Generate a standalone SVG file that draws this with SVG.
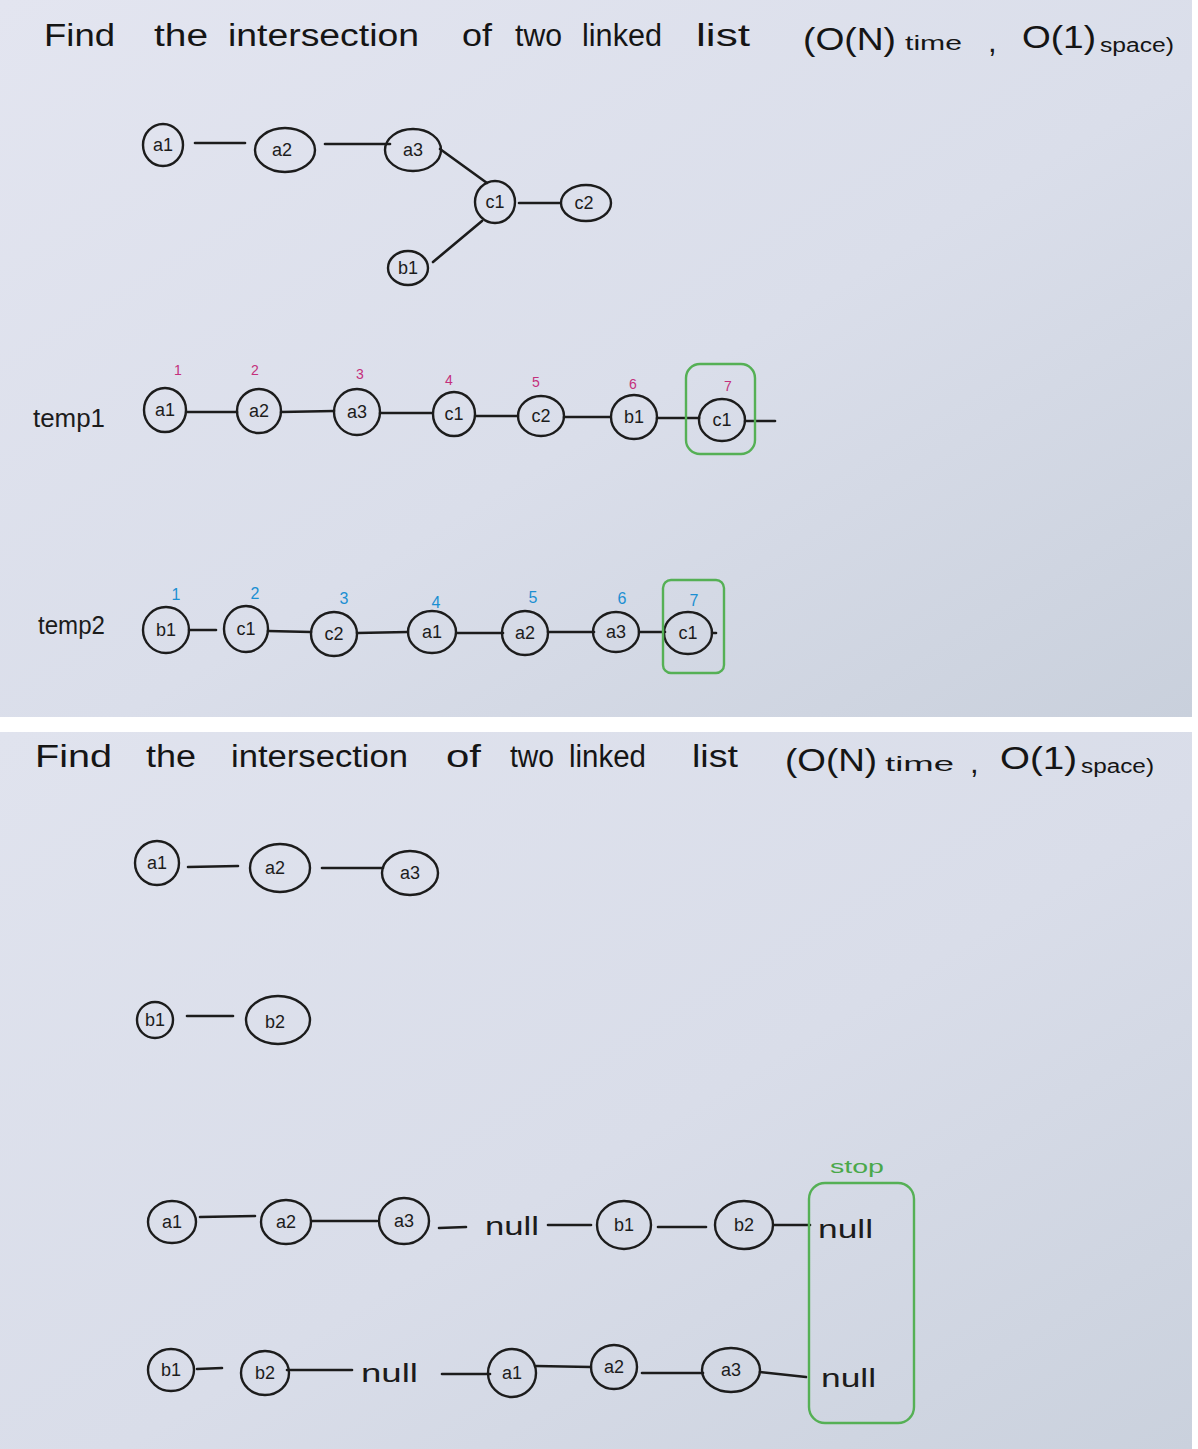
<svg xmlns="http://www.w3.org/2000/svg" width="1198" height="1449" viewBox="0 0 1198 1449">
<defs>
<linearGradient id="bg1" x1="0" y1="0" x2="1" y2="1">
<stop offset="0" stop-color="#e3e5f0"/>
<stop offset="0.55" stop-color="#dadeea"/>
<stop offset="1" stop-color="#c9d0dc"/>
</linearGradient>
<linearGradient id="bg2" x1="0" y1="0" x2="1" y2="1">
<stop offset="0" stop-color="#e0e3ee"/>
<stop offset="0.55" stop-color="#d9dde9"/>
<stop offset="1" stop-color="#cad1dd"/>
</linearGradient>
<style>
.node ellipse{fill:none;stroke:#1c1c1c;stroke-width:2.4}
.lbl{font-family:"Liberation Sans","DejaVu Sans",sans-serif;font-size:18px;text-anchor:middle;fill:#1c1c1c}
.edges line{stroke:#1c1c1c;stroke-width:2.6;stroke-linecap:round}
.title{font-family:"Liberation Sans Narrow","Liberation Sans",sans-serif;font-size:31px;fill:#151515}
.small{font-family:"Liberation Sans Narrow","Liberation Sans",sans-serif;font-size:20px;fill:#151515}
.word{font-family:"Liberation Sans","DejaVu Sans",sans-serif;font-size:25px;fill:#1c1c1c}
.num1{font-family:"Liberation Sans",sans-serif;font-size:14px;fill:#c4307c;text-anchor:middle}
.num2{font-family:"Liberation Sans",sans-serif;font-size:16px;fill:#1b8fd2;text-anchor:middle}
.box{fill:none;stroke:#55b055;stroke-width:2.4}
.stop{font-family:"Liberation Sans",sans-serif;font-size:18px;fill:#4aa84a}
</style>
</defs>
<rect x="0" y="0" width="1198" height="1449" fill="#ffffff"/>
<rect x="0" y="0" width="1192" height="717" fill="url(#bg1)"/>
<rect x="0" y="732" width="1192" height="717" fill="url(#bg2)"/>

<!-- Top title -->
<g id="title1">
<text class="title" x="44" y="46" textLength="71" lengthAdjust="spacingAndGlyphs">Find</text>
<text class="title" x="154" y="46" textLength="54" lengthAdjust="spacingAndGlyphs">the</text>
<text class="title" x="228" y="46" textLength="191" lengthAdjust="spacingAndGlyphs">intersection</text>
<text class="title" x="462" y="46" textLength="30" lengthAdjust="spacingAndGlyphs">of</text>
<text class="title" x="515" y="46" textLength="47" lengthAdjust="spacingAndGlyphs">two</text>
<text class="title" x="582" y="46" textLength="80" lengthAdjust="spacingAndGlyphs">linked</text>
<text class="title" x="696" y="46" textLength="54" lengthAdjust="spacingAndGlyphs">list</text>
<text class="title" x="803" y="50" textLength="93" lengthAdjust="spacingAndGlyphs">(O(N)</text>
<text class="small" x="905" y="50" textLength="57" lengthAdjust="spacingAndGlyphs">time</text>
<text class="title" x="988" y="52">,</text>
<text class="title" x="1022" y="48" textLength="74" lengthAdjust="spacingAndGlyphs">O(1)</text>
<text class="small" x="1100" y="52" textLength="74" lengthAdjust="spacingAndGlyphs">space)</text>
</g>

<!-- Connectors -->
<g id="connectors" class="edges">
<line x1="195" y1="143" x2="245" y2="143"/>
<line x1="325" y1="144" x2="390" y2="144"/>
<line x1="440" y1="149" x2="487" y2="183"/>
<line x1="519" y1="203" x2="560" y2="203"/>
<line x1="433" y1="262" x2="482" y2="221"/>

<line x1="187" y1="412" x2="237" y2="412"/>
<line x1="281" y1="412" x2="334" y2="411"/>
<line x1="380" y1="413" x2="432" y2="413"/>
<line x1="476" y1="416" x2="518" y2="416"/>
<line x1="564" y1="417" x2="610" y2="417"/>
<line x1="657" y1="418" x2="699" y2="418"/>
<line x1="745" y1="421" x2="775" y2="421"/>

<line x1="189" y1="630" x2="216" y2="630"/>
<line x1="268" y1="631" x2="311" y2="632"/>
<line x1="357" y1="633" x2="408" y2="632"/>
<line x1="457" y1="633" x2="503" y2="633"/>
<line x1="548" y1="632" x2="594" y2="632"/>
<line x1="639" y1="632" x2="665" y2="632"/>
<line x1="712" y1="633" x2="716" y2="633"/>

<line x1="188" y1="867" x2="238" y2="866"/>
<line x1="322" y1="868" x2="383" y2="868"/>
<line x1="187" y1="1016" x2="233" y2="1016"/>

<line x1="200" y1="1217" x2="255" y2="1216"/>
<line x1="312" y1="1221" x2="377" y2="1221"/>
<line x1="439" y1="1228" x2="466" y2="1227"/>
<line x1="548" y1="1225" x2="591" y2="1225"/>
<line x1="658" y1="1227" x2="706" y2="1227"/>
<line x1="774" y1="1225" x2="810" y2="1225"/>

<line x1="197" y1="1369" x2="222" y2="1368"/>
<line x1="287" y1="1370" x2="352" y2="1370"/>
<line x1="442" y1="1374" x2="490" y2="1374"/>
<line x1="536" y1="1366" x2="591" y2="1367"/>
<line x1="642" y1="1373" x2="703" y2="1373"/>
<line x1="760" y1="1372" x2="806" y2="1377"/>
</g>

<!-- Top graph nodes -->
<g id="g1-a1" class="node"><ellipse cx="163" cy="145" rx="20" ry="21"/><text class="lbl" x="163" y="151">a1</text></g>
<g id="g1-a2" class="node"><ellipse cx="285" cy="150" rx="30" ry="22"/><text class="lbl" x="282" y="156">a2</text></g>
<g id="g1-a3" class="node"><ellipse cx="413" cy="150" rx="28" ry="21"/><text class="lbl" x="413" y="156">a3</text></g>
<g id="g1-c1" class="node"><ellipse cx="495" cy="202" rx="20" ry="21"/><text class="lbl" x="495" y="208">c1</text></g>
<g id="g1-c2" class="node"><ellipse cx="586" cy="203" rx="25" ry="18"/><text class="lbl" x="584" y="209">c2</text></g>
<g id="g1-b1" class="node"><ellipse cx="408" cy="268" rx="20" ry="17"/><text class="lbl" x="408" y="274">b1</text></g>

<!-- temp1 -->
<text class="word" x="33" y="427" textLength="72" lengthAdjust="spacingAndGlyphs">temp1</text>
<g id="t1-numbers">
<text class="num1" x="178" y="375">1</text>
<text class="num1" x="255" y="375">2</text>
<text class="num1" x="360" y="379">3</text>
<text class="num1" x="449" y="385">4</text>
<text class="num1" x="536" y="387">5</text>
<text class="num1" x="633" y="389">6</text>
<text class="num1" x="728" y="391">7</text>
</g>
<g id="t1-a1" class="node"><ellipse cx="165" cy="410" rx="21" ry="22"/><text class="lbl" x="165" y="416">a1</text></g>
<g id="t1-a2" class="node"><ellipse cx="259" cy="411" rx="22" ry="22"/><text class="lbl" x="259" y="417">a2</text></g>
<g id="t1-a3" class="node"><ellipse cx="357" cy="412" rx="23" ry="23"/><text class="lbl" x="357" y="418">a3</text></g>
<g id="t1-c1" class="node"><ellipse cx="454" cy="414" rx="21" ry="22"/><text class="lbl" x="454" y="420">c1</text></g>
<g id="t1-c2" class="node"><ellipse cx="541" cy="416" rx="23" ry="20"/><text class="lbl" x="541" y="422">c2</text></g>
<g id="t1-b1" class="node"><ellipse cx="634" cy="417" rx="23" ry="22"/><text class="lbl" x="634" y="423">b1</text></g>
<g id="t1-c1b" class="node"><ellipse cx="722" cy="420" rx="23" ry="21"/><text class="lbl" x="722" y="426">c1</text></g>
<rect id="t1-box" class="box" x="686" y="364" width="69" height="90" rx="14"/>

<!-- temp2 -->
<text class="word" x="38" y="634" textLength="67" lengthAdjust="spacingAndGlyphs">temp2</text>
<g id="t2-numbers">
<text class="num2" x="176" y="600">1</text>
<text class="num2" x="255" y="599">2</text>
<text class="num2" x="344" y="604">3</text>
<text class="num2" x="436" y="608">4</text>
<text class="num2" x="533" y="603">5</text>
<text class="num2" x="622" y="604">6</text>
<text class="num2" x="694" y="606">7</text>
</g>
<g id="t2-b1" class="node"><ellipse cx="166" cy="630" rx="23" ry="23"/><text class="lbl" x="166" y="636">b1</text></g>
<g id="t2-c1" class="node"><ellipse cx="246" cy="629" rx="22" ry="23"/><text class="lbl" x="246" y="635">c1</text></g>
<g id="t2-c2" class="node"><ellipse cx="334" cy="634" rx="23" ry="22"/><text class="lbl" x="334" y="640">c2</text></g>
<g id="t2-a1" class="node"><ellipse cx="432" cy="632" rx="24" ry="21"/><text class="lbl" x="432" y="638">a1</text></g>
<g id="t2-a2" class="node"><ellipse cx="525" cy="633" rx="23" ry="22"/><text class="lbl" x="525" y="639">a2</text></g>
<g id="t2-a3" class="node"><ellipse cx="616" cy="632" rx="23" ry="20"/><text class="lbl" x="616" y="638">a3</text></g>
<g id="t2-c1b" class="node"><ellipse cx="688" cy="633" rx="24" ry="21"/><text class="lbl" x="688" y="639">c1</text></g>
<rect id="t2-box" class="box" x="663" y="580" width="61" height="93" rx="8"/>

<!-- Bottom title -->
<g id="title2">
<text class="title" x="35" y="767" textLength="77" lengthAdjust="spacingAndGlyphs">Find</text>
<text class="title" x="146" y="767" textLength="50" lengthAdjust="spacingAndGlyphs">the</text>
<text class="title" x="231" y="767" textLength="177" lengthAdjust="spacingAndGlyphs">intersection</text>
<text class="title" x="446" y="767" textLength="35" lengthAdjust="spacingAndGlyphs">of</text>
<text class="title" x="510" y="767" textLength="44" lengthAdjust="spacingAndGlyphs">two</text>
<text class="title" x="569" y="767" textLength="77" lengthAdjust="spacingAndGlyphs">linked</text>
<text class="title" x="692" y="767" textLength="46" lengthAdjust="spacingAndGlyphs">list</text>
<text class="title" x="785" y="771" textLength="92" lengthAdjust="spacingAndGlyphs">(O(N)</text>
<text class="small" x="885" y="771" textLength="69" lengthAdjust="spacingAndGlyphs">time</text>
<text class="title" x="970" y="773">,</text>
<text class="title" x="1000" y="769" textLength="77" lengthAdjust="spacingAndGlyphs">O(1)</text>
<text class="small" x="1081" y="773" textLength="73" lengthAdjust="spacingAndGlyphs">space)</text>
</g>

<!-- Bottom lists -->
<g id="l-a1" class="node"><ellipse cx="157" cy="863" rx="22" ry="22"/><text class="lbl" x="157" y="869">a1</text></g>
<g id="l-a2" class="node"><ellipse cx="280" cy="868" rx="30" ry="24"/><text class="lbl" x="275" y="874">a2</text></g>
<g id="l-a3" class="node"><ellipse cx="410" cy="873" rx="28" ry="22"/><text class="lbl" x="410" y="879">a3</text></g>
<g id="l-b1" class="node"><ellipse cx="155" cy="1020" rx="18" ry="18"/><text class="lbl" x="155" y="1026">b1</text></g>
<g id="l-b2" class="node"><ellipse cx="278" cy="1020" rx="32" ry="24"/><text class="lbl" x="275" y="1028">b2</text></g>

<!-- Row 3 -->
<g id="r1-a1" class="node"><ellipse cx="172" cy="1222" rx="24" ry="21"/><text class="lbl" x="172" y="1228">a1</text></g>
<g id="r1-a2" class="node"><ellipse cx="286" cy="1222" rx="25" ry="22"/><text class="lbl" x="286" y="1228">a2</text></g>
<g id="r1-a3" class="node"><ellipse cx="404" cy="1221" rx="25" ry="23"/><text class="lbl" x="404" y="1227">a3</text></g>
<text class="word" x="485" y="1235" textLength="54" lengthAdjust="spacingAndGlyphs">null</text>
<g id="r1-b1" class="node"><ellipse cx="624" cy="1225" rx="27" ry="24"/><text class="lbl" x="624" y="1231">b1</text></g>
<g id="r1-b2" class="node"><ellipse cx="744" cy="1225" rx="29" ry="24"/><text class="lbl" x="744" y="1231">b2</text></g>
<text class="word" x="818" y="1238" textLength="55" lengthAdjust="spacingAndGlyphs">null</text>

<!-- Row 4 -->
<g id="r2-b1" class="node"><ellipse cx="171" cy="1370" rx="23" ry="21"/><text class="lbl" x="171" y="1376">b1</text></g>
<g id="r2-b2" class="node"><ellipse cx="265" cy="1373" rx="24" ry="22"/><text class="lbl" x="265" y="1379">b2</text></g>
<text class="word" x="361" y="1382" textLength="57" lengthAdjust="spacingAndGlyphs">null</text>
<g id="r2-a1" class="node"><ellipse cx="512" cy="1373" rx="24" ry="24"/><text class="lbl" x="512" y="1379">a1</text></g>
<g id="r2-a2" class="node"><ellipse cx="614" cy="1367" rx="23" ry="22"/><text class="lbl" x="614" y="1373">a2</text></g>
<g id="r2-a3" class="node"><ellipse cx="731" cy="1370" rx="29" ry="22"/><text class="lbl" x="731" y="1376">a3</text></g>
<text class="word" x="821" y="1387" textLength="55" lengthAdjust="spacingAndGlyphs">null</text>

<rect id="stop-box" class="box" x="809" y="1183" width="105" height="240" rx="16"/>
<text class="stop" x="830" y="1173" textLength="54" lengthAdjust="spacingAndGlyphs">stop</text>
</svg>
